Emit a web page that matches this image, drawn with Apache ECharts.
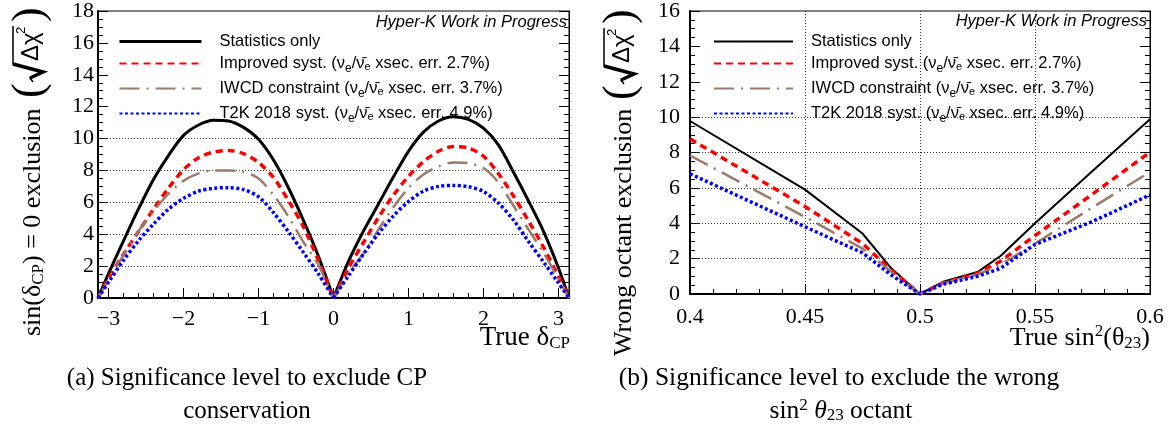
<!DOCTYPE html>
<html>
<head>
<meta charset="utf-8">
<script src="https://cdn.jsdelivr.net/npm/echarts@6.0.0/dist/echarts.min.js"></script>
<style>
  html, body { margin: 0; padding: 0; background: #fff; }
  #main { width: 1175px; height: 437px; }
</style>
</head>
<body>
<div id="main"></div>
<script>
// (a) sin(dCP)=0 exclusion vs true dCP
const deltaCP = [-3.1416, -3.0, -2.8, -2.6, -2.4, -2.2, -2.0, -1.8, -1.6, -1.4, -1.2, -1.0, -0.8, -0.6, -0.4, -0.2,
  0, 0.2, 0.4, 0.6, 0.8, 1.0, 1.2, 1.4, 1.6, 1.8, 2.0, 2.2, 2.4, 2.6, 2.8, 3.0, 3.1416];
const cpStat     = [0, 1.55, 3.6, 5.6, 7.45, 8.95, 10.2, 10.85, 11.15, 11.1, 10.7, 9.95, 8.65, 6.9, 4.85, 2.6,
  0, 2.3, 4.2, 5.9, 7.6, 9.2, 10.4, 11.1, 11.37, 11.2, 10.65, 9.6, 7.9, 6.1, 4.2, 1.9, 0];
const cpImproved = [0, 1.23, 2.75, 4.18, 5.57, 6.9, 8.05, 8.8, 9.15, 9.25, 9.05, 8.5, 7.55, 6.1, 4.45, 2.35,
  0, 1.88, 3.48, 5.05, 6.45, 7.62, 8.55, 9.2, 9.5, 9.4, 8.9, 7.8, 6.4, 4.85, 3.2, 1.35, 0];
const cpIWCD     = [0, 1.15, 2.7, 4.2, 5.45, 6.55, 7.35, 7.82, 8.0, 8.0, 7.9, 7.5, 6.45, 5.1, 3.5, 2.06,
  0, 1.55, 2.8, 4.3, 5.7, 6.9, 7.75, 8.25, 8.5, 8.45, 8.15, 7.25, 5.8, 4.3, 2.85, 1.2, 0];
const cpT2K      = [0, 1.0, 2.37, 3.6, 4.64, 5.58, 6.25, 6.7, 6.88, 6.92, 6.8, 6.35, 5.35, 4.15, 2.85, 1.5,
  0, 1.4, 2.75, 4.05, 5.15, 6.05, 6.7, 7.0, 7.06, 6.98, 6.68, 5.95, 4.9, 3.55, 2.27, 0.95, 0];

// (b) wrong octant exclusion vs true sin^2(theta23)
const sin2th23  = [0.4, 0.45, 0.475, 0.4875, 0.5, 0.51, 0.525, 0.535, 0.55, 0.575, 0.6];
const octStat     = [9.78, 5.9, 3.42, 1.45, 0, 0.69, 1.24, 2.15, 4.0, 6.95, 9.88];
const octImproved = [8.77, 4.95, 2.85, 1.35, 0, 0.62, 1.16, 1.85, 3.3, 5.65, 8.02];
const octIWCD     = [7.83, 4.36, 2.57, 1.26, 0, 0.6, 1.1, 1.65, 2.85, 4.9, 6.9];
const octT2K      = [6.8, 3.8, 2.33, 1.07, 0, 0.55, 1.0, 1.45, 2.8, 4.1, 5.6];

const seriesNames = ['Statistics only', 'Improved syst.', 'IWCD constraint', 'T2K 2018 syst.'];
const xsecErr = ['', '2.7%', '3.7%', '4.9%'];
const cpGridY = [2, 4, 6, 8, 10];
const octGridY = [2, 4, 6, 8, 10];

const serif = 'Liberation Serif';
const sans = 'Liberation Sans';

const styles = [
  { color: '#000000', width: 3, type: 'solid' },
  { color: '#ff0000', width: 3.5, type: [7, 5] },
  { color: '#9b7a6a', width: 2.5, type: [20, 7, 2, 7] },
  { color: '#0000ff', width: 3.5, type: [3, 2.5] }
];

const pairs = (xs, ys) => xs.map((x, i) => [x, ys[i]]);

function makeSeries(name, xs, ys, style, idx, smooth) {
  return {
    name: name, type: 'line', xAxisIndex: idx, yAxisIndex: idx * 2,
    data: pairs(xs, ys), showSymbol: false, symbol: 'none', silent: true,
    smooth: smooth || false,
    itemStyle: { color: style.color },
    lineStyle: style, z: 3
  };
}

// the delta_CP curves have a cusp at 0: draw each hump as its own smoothed piece
const zeroIdx = deltaCP.indexOf(0);
function cpSeries(name, ys, style) {
  return [
    makeSeries(name, deltaCP.slice(0, zeroIdx + 1), ys.slice(0, zeroIdx + 1), style, 0, 0.3),
    makeSeries(name, deltaCP.slice(zeroIdx), ys.slice(zeroIdx), style, 0, 0.3)
  ];
}

function gridLines(vals, idx) {
  return {
    type: 'line', xAxisIndex: idx, yAxisIndex: idx * 2, data: [], silent: true,
    markLine: {
      silent: true, symbol: 'none', z: 1, animation: false,
      label: { show: false },
      lineStyle: { type: [1, 2], color: '#333', width: 1 },
      data: vals.map(v => ({ yAxis: v }))
    }
  };
}

const tickLabel = { fontFamily: serif, fontSize: 22, color: '#000' };

function yAxes(gridIndex, max) {
  const common = {
    type: 'value', gridIndex: gridIndex, min: 0, max: max, interval: 2,
    axisTick: { inside: true, length: 10, lineStyle: { color: '#000' } },
    minorTick: { show: true, splitNumber: 4, length: 5, lineStyle: { color: '#000' } },
    splitLine: { show: false }
  };
  return [
    Object.assign({}, common, {
      position: 'left',
      axisLine: { show: true, onZero: false, lineStyle: { color: '#000', width: 2 } },
      axisLabel: Object.assign({ margin: gridIndex === 0 ? 4 : 10 }, tickLabel)
    }),
    Object.assign({}, common, {
      position: 'right',
      axisLine: { show: true, onZero: false, lineStyle: { color: '#000', width: 1 } },
      axisLabel: { show: false }
    })
  ];
}

function legendText(name) {
  const i = seriesNames.indexOf(name);
  if (!xsecErr[i]) return '{n|' + name + '}';
  return '{n|' + name + ' (\u03bd}{s|e}{t|/\u03bd\u0304}{s2|e}{t| xsec. err. ' + xsecErr[i] + ')}';
}

const legendRich = {
  n: { fontFamily: sans, fontSize: 16.5, color: '#000', padding: [0, 0, 0, 13], lineHeight: 18 },
  t: { fontFamily: sans, fontSize: 16.5, color: '#000', lineHeight: 18 },
  s: { fontFamily: sans, fontSize: 12, color: '#000', lineHeight: 12, padding: [11, 0, 0, 0] },
  s2: { fontFamily: sans, fontSize: 11, color: '#000', lineHeight: 12, padding: [6, 0, 0, 0] }
};

function legend(left, width, lineW) {
  return {
    orient: 'vertical', left: left, top: 33, itemWidth: width, itemHeight: 18, itemGap: 2,
    selectedMode: false, padding: 0,
    itemStyle: { opacity: 0 },
    data: seriesNames.map((n, i) => i === 0 ? { name: n, lineStyle: { width: lineW } } : { name: n }),
    formatter: legendText,
    textStyle: { rich: legendRich }
  };
}

// rotated y-axis title: plain text part + (sqrt(dchi^2)) part with its radical drawn as a path
function yTitle(text, x, yBottom, ySqrt) {
  return [
    {
      type: 'text', x: x, y: yBottom, rotation: Math.PI / 2,
      style: {
        text: text, align: 'left', verticalAlign: 'middle',
        rich: {
          a: { fontFamily: serif, fontSize: 26, color: '#000' },
          s: { fontFamily: serif, fontSize: 17, color: '#000', padding: [12, 0, 0, 0] }
        }
      }
    },
    {
      type: 'group', x: x - 3, y: ySqrt, rotation: Math.PI / 2,
      children: [
        { type: 'text', x: 0, y: 0, style: { text: '(', fontFamily: serif, fontSize: 44, fill: '#000', align: 'left', verticalAlign: 'middle' } },
        { type: 'polyline', shape: { points: [[16, 3], [20, 0], [26, 13], [34, -17], [72, -17]] }, style: { stroke: '#000', lineWidth: 1.5, fill: null } },
        { type: 'polyline', shape: { points: [[20, 0], [26, 13], [34, -17]] }, style: { stroke: '#000', lineWidth: 3.5, fill: null } },
        { type: 'text', x: 37, y: 1, style: { text: '\u0394\u03c7', fontFamily: sans, fontSize: 24, fill: '#000', align: 'left', verticalAlign: 'middle' } },
        { type: 'text', x: 64, y: -9, style: { text: '2', fontFamily: sans, fontSize: 13, fill: '#000', align: 'left', verticalAlign: 'middle' } },
        { type: 'text', x: 76, y: 0, style: { text: ')', fontFamily: serif, fontSize: 44, fill: '#000', align: 'left', verticalAlign: 'middle' } }
      ]
    }
  ];
}

const chart = echarts.init(document.getElementById('main'), null, { renderer: 'canvas' });

chart.setOption({
  backgroundColor: '#ffffff',
  animation: false,
  grid: [
    { left: 98, top: 10, width: 471, height: 288, show: true, borderColor: '#000', borderWidth: 1 },
    { left: 690, top: 10, width: 460, height: 284, show: true, borderColor: '#000', borderWidth: 1 }
  ],
  xAxis: [
    {
      type: 'value', gridIndex: 0, min: -3.1416, max: 3.1416, splitNumber: 6,
      axisLine: { onZero: false, lineStyle: { color: '#000', width: 2 } },
      axisTick: { inside: true, length: 10, lineStyle: { color: '#000' } },
      minorTick: { show: true, splitNumber: 5, length: 5, lineStyle: { color: '#000' } },
      axisLabel: Object.assign({
        margin: 10,
        formatter: v => Math.abs(v - Math.round(v)) < 1e-6 ? (v < -0.5 ? '\u2212' : '') + Math.abs(Math.round(v)) : ''
      }, tickLabel),
      splitLine: { show: false }
    },
    {
      type: 'value', gridIndex: 1, min: 0.4, max: 0.6, interval: 0.05,
      axisLine: { onZero: false, lineStyle: { color: '#000', width: 2 } },
      axisTick: { inside: true, length: 10, lineStyle: { color: '#000' } },
      minorTick: { show: true, splitNumber: 5, length: 5, lineStyle: { color: '#000' } },
      axisLabel: Object.assign({ margin: 12, formatter: v => String(+v.toFixed(2)) }, tickLabel),
      splitLine: { show: true, lineStyle: { type: [1, 2], color: '#333', width: 1 } }
    }
  ],
  yAxis: yAxes(0, 18).concat(yAxes(1, 16)),
  legend: [legend(118, 82, 3), legend(713, 79, 2)],
  series: [gridLines(cpGridY, 0)].concat(
    cpSeries(seriesNames[0], cpStat, styles[0]),
    cpSeries(seriesNames[1], cpImproved, styles[1]),
    cpSeries(seriesNames[2], cpIWCD, styles[2]),
    cpSeries(seriesNames[3], cpT2K, styles[3]),
    [
      gridLines(octGridY, 1),
      makeSeries(seriesNames[0], sin2th23, octStat, Object.assign({}, styles[0], { width: 2 }), 1),
      makeSeries(seriesNames[1], sin2th23, octImproved, styles[1], 1),
      makeSeries(seriesNames[2], sin2th23, octIWCD, styles[2], 1),
      makeSeries(seriesNames[3], sin2th23, octT2K, styles[3], 1)
    ]
  ),
  graphic: [
    { type: 'text', x: 567, y: 22, style: { text: 'Hyper-K Work in Progress', fontFamily: sans, fontStyle: 'italic', fontSize: 16.5, fill: '#000', align: 'right', verticalAlign: 'middle' } },
    { type: 'text', x: 1147, y: 21, style: { text: 'Hyper-K Work in Progress', fontFamily: sans, fontStyle: 'italic', fontSize: 16.5, fill: '#000', align: 'right', verticalAlign: 'middle' } }
  ].concat(
    yTitle('{a|sin(\u03b4}{s|CP}{a|) = 0 exclusion}', 33, 336, 98),
    yTitle('{a|Wrong octant exclusion}', 624, 356, 100),
    [
      {
        type: 'text', x: 570, y: 338,
        style: {
          text: '{a|True \u03b4}{s|CP}', align: 'right', verticalAlign: 'middle',
          rich: {
            a: { fontFamily: serif, fontSize: 27, color: '#000' },
            s: { fontFamily: serif, fontSize: 17, color: '#000', padding: [12, 0, 0, 0] }
          }
        }
      },
      {
        type: 'text', x: 1150, y: 338,
        style: {
          text: '{a|True sin}{u|2}{a|(\u03b8}{s|23}{a|)}', align: 'right', verticalAlign: 'middle',
          rich: {
            a: { fontFamily: serif, fontSize: 26, color: '#000' },
            s: { fontFamily: serif, fontSize: 17, color: '#000', padding: [12, 0, 0, 0] },
            u: { fontFamily: serif, fontSize: 17, color: '#000', padding: [0, 0, 12, 0] }
          }
        }
      },
      { type: 'text', x: 247, y: 378, style: { text: '(a) Significance level to exclude CP', fontFamily: serif, fontSize: 25, fill: '#000', align: 'center', verticalAlign: 'middle' } },
      { type: 'text', x: 247, y: 411, style: { text: 'conservation', fontFamily: serif, fontSize: 25, fill: '#000', align: 'center', verticalAlign: 'middle' } },
      { type: 'text', x: 839, y: 378, style: { text: '(b) Significance level to exclude the wrong', fontFamily: serif, fontSize: 25.5, fill: '#000', align: 'center', verticalAlign: 'middle' } },
      {
        type: 'text', x: 841, y: 411,
        style: {
          text: '{a|sin}{u|2}{a| }{i|\u03b8}{s|23}{a| octant}', align: 'center', verticalAlign: 'middle',
          rich: {
            a: { fontFamily: serif, fontSize: 25.5, color: '#000' },
            i: { fontFamily: serif, fontSize: 25.5, fontStyle: 'italic', color: '#000' },
            s: { fontFamily: serif, fontSize: 17, color: '#000', padding: [9, 0, 0, 0] },
            u: { fontFamily: serif, fontSize: 17, color: '#000', padding: [0, 0, 11, 0] }
          }
        }
      }
    ]
  )
});
</script>
</body>
</html>
